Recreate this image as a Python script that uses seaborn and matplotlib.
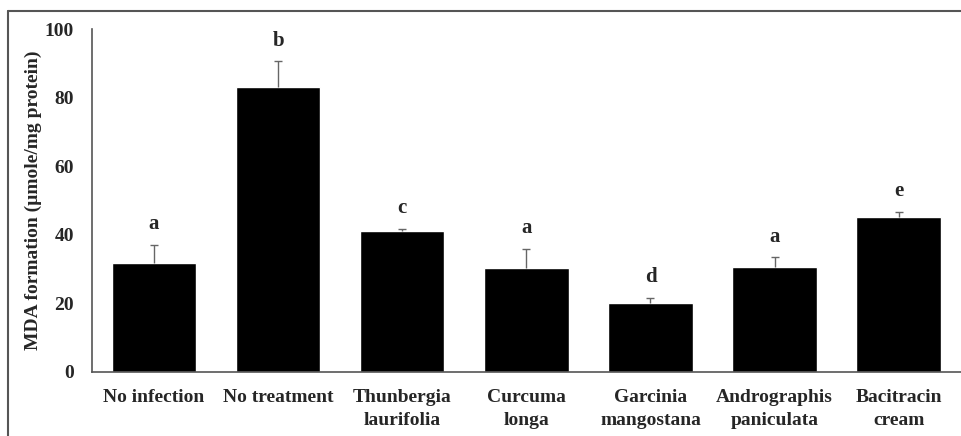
import matplotlib
matplotlib.use('Agg')
import matplotlib.pyplot as plt
from matplotlib.lines import Line2D
import numpy as np
import pandas as pd
import seaborn as sns

groups = ['No infection', 'No treatment', 'Thunbergia\nlaurifolia', 'Curcuma\nlonga',
          'Garcinia\nmangostana', 'Andrographis\npaniculata', 'Bacitracin\ncream']
mda = [31.9, 83.1, 41.2, 30.3, 20.1, 30.5, 45.1]
sd = [5.2, 7.5, 0.5, 5.6, 1.4, 2.9, 1.6]
letters = ['a', 'b', 'c', 'a', 'd', 'a', 'e']

df = pd.DataFrame({'group': groups, 'mda': mda, 'sd': sd})

sns.set_style('white')
plt.rcParams['font.family'] = ['Liberation Serif', 'DejaVu Serif']
plt.rcParams['font.weight'] = 'bold'

fig = plt.figure(figsize=(9.61, 4.36), dpi=100)
ax = fig.add_axes([0.0957, 0.147, 0.904, 0.786])

sns.barplot(data=df, x='group', y='mda', color='black', saturation=1,
            width=0.68, errorbar=None, ax=ax)

x = np.arange(len(groups))
eb = ax.errorbar(x, df['mda'], yerr=[np.zeros(len(sd)), df['sd']], fmt='none',
                 ecolor='#666666', elinewidth=1, capsize=3, capthick=1)
# only the upper cap, like the original
eb[1][0].set_visible(False)

# significance letters
for i in range(len(groups)):
    ax.annotate(letters[i], (x[i], mda[i] + sd[i]), xytext=(0, 15),
                textcoords='offset points', ha='center', va='center',
                fontsize=15, fontweight='bold')

ax.set_xlim(-0.5, len(groups) - 0.5)
ax.set_ylim(0, 100)
ax.set_yticks([0, 20, 40, 60, 80, 100])
ax.set_xlabel('')
ax.set_ylabel('MDA formation (µmole/mg protein)', fontsize=14, fontweight='bold', labelpad=2)
ax.tick_params(axis='both', length=0, labelsize=14)
ax.tick_params(axis='x', pad=12)
ax.tick_params(axis='y', pad=13)
for lab in ax.get_xticklabels() + ax.get_yticklabels():
    lab.set_fontweight('bold')
    lab.set_linespacing(1.5)
sns.despine(ax=ax)
for s in ['left', 'bottom']:
    ax.spines[s].set_color('#555555')
    ax.spines[s].set_linewidth(1.2)

# outer frame of the figure (top and left visible)
fig.add_artist(Line2D([8 / 961, 1], [1 - 11 / 436, 1 - 11 / 436], color='#555555', lw=1.5))
fig.add_artist(Line2D([8 / 961, 8 / 961], [0, 1 - 11 / 436], color='#555555', lw=1.5))

fig.savefig('out.png', dpi=100)
